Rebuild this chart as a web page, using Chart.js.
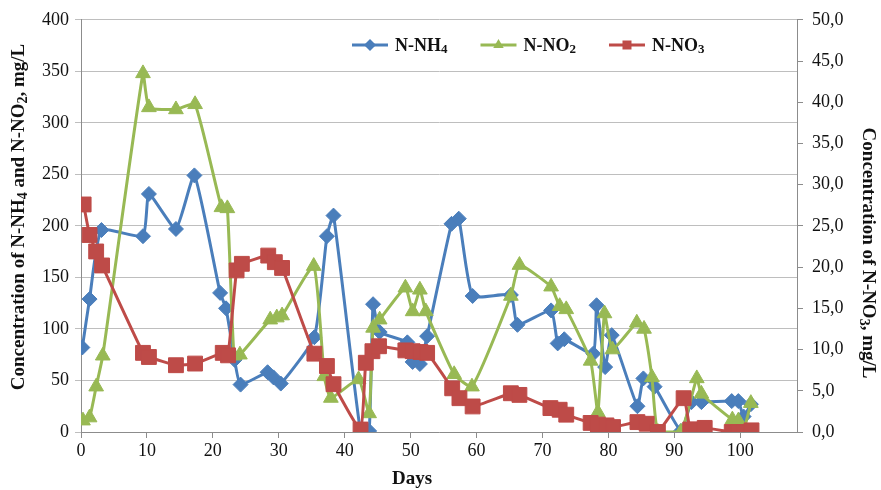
<!DOCTYPE html>
<html>
<head>
<meta charset="utf-8">
<script src="https://cdn.jsdelivr.net/npm/chart.js@4.4.1/dist/chart.umd.min.js"></script>
<style>
  html, body { margin: 0; padding: 0; background: #fff; }
  #wrap { width: 881px; height: 490px; }
</style>
</head>
<body>
<div id="wrap"><canvas id="chart" width="881" height="490"></canvas></div>
<script>
// sampling days and concentrations
const nh4Days = [0.2, 1.3, 3.1, 9.4, 10.3, 14.4, 17.2, 21.1, 22.0, 23.3, 24.2, 28.3, 29.2, 30.3, 35.4, 37.3, 38.3,
  42.4, 43.7, 44.3, 45.3, 49.5, 50.3, 51.4, 52.5, 56.2, 57.3, 59.4, 65.2, 66.2, 71.3, 72.3, 73.3, 77.7, 78.2,
  79.5, 80.5, 84.4, 85.3, 87.0, 91.0, 92.6, 94.1, 98.7, 99.7, 100.5, 101.6]
const nh4Values = [82, 129, 196, 190, 231, 197, 249, 135, 120, 70, 46, 58, 53, 47, 92, 190, 210,
  0, 1, 124, 97, 87, 68, 66, 93, 202, 207, 132, 133, 104, 118, 86, 90, 76, 123,
  63, 94, 25, 52, 44, 1, 29, 29, 30, 30, 15, 27]

const no2Days = [0.3, 1.3, 2.3, 3.3, 9.4, 10.3, 14.4, 17.3, 21.3, 22.2, 23.2, 24.1, 28.7, 29.7, 30.5, 35.3, 36.9,
  37.9, 42.1, 43.7, 44.3, 45.3, 49.2, 50.3, 51.4, 52.3, 56.6, 59.3, 65.2, 66.5, 71.3, 72.6, 73.6, 77.3, 78.4,
  79.4, 80.6, 84.3, 85.4, 86.6, 87.5, 91.0, 93.4, 94.1, 98.8, 99.7, 100.5, 101.6]
const no2Values = [11, 14, 44, 74, 348, 315, 313, 318, 218, 217, 74, 75, 109, 111, 113, 161, 54,
  33, 51, 18, 101, 109, 140, 117, 138, 117, 56, 44, 132, 162, 141, 122, 119, 69, 19,
  115, 80, 106, 100, 53, 0, 0, 52, 37, 12, 11, 2, 28]

const no3Days = [0.4, 1.3, 2.3, 3.2, 9.4, 10.3, 14.4, 17.3, 21.5, 22.3, 23.6, 24.4, 28.4, 29.4, 30.5, 35.4, 37.3,
  38.3, 42.4, 43.2, 44.2, 45.2, 49.2, 50.3, 51.5, 52.5, 56.3, 57.4, 59.4, 65.2, 66.5, 71.2, 72.6, 73.6, 77.3,
  78.4, 79.7, 80.7, 84.4, 85.8, 87.5, 91.4, 92.4, 93.4, 94.6, 98.7, 99.7, 100.7, 101.7]
const no3Values = [27.6, 23.9, 21.9, 20.2, 9.6, 9.1, 8.1, 8.3, 9.6, 9.3, 19.6, 20.4, 21.4, 20.6, 19.9, 9.5, 8.0,
  5.8, 0.3, 8.4, 9.8, 10.4, 9.9, 9.8, 9.7, 9.6, 5.3, 4.1, 3.1, 4.7, 4.5, 2.9, 2.7, 2.1, 1.1,
  0.9, 0.8, 0.6, 1.2, 1.0, 0.0, 4.1, 0.3, 0.3, 0.5, 0.0, 0.0, 0.0, 0.2]

const seriesNames = ['N-NH_4', 'N-NO_2', 'N-NO_3']
const dayTicks = [0, 10, 20, 30, 40, 50, 60, 70, 80, 90, 100]
const leftTicks = [0, 50, 100, 150, 200, 250, 300, 350, 400]
const rightTicks = [0, 5, 10, 15, 20, 25, 30, 35, 40, 45, 50]

const FONT = '"Liberation Serif", "Times New Roman", serif'
const BLUE = '#4A7EBB'
const GREEN = '#98B954'
const RED = '#BE4B48'
const GRID = '#BEBEBE'
const AXIS = '#8C8C8C'

const toPoints = (days, values) => days.map((d, i) => ({ x: d, y: values[i] }))

// split 'N-NH_4' into normal / subscript pieces
function parts (text) {
  return text.split(/_(\d)/).map((t, i) => ({ t, sub: i % 2 === 1 })).filter(p => p.t)
}

function drawRich (ctx, text, cx, cy, rot, size, align) {
  const ps = parts(text)
  const subSize = Math.round(size * 0.72)
  let w = 0
  ps.forEach(p => {
    ctx.font = `bold ${p.sub ? subSize : size}px ${FONT}`
    p.w = ctx.measureText(p.t).width
    w += p.w
  })
  ctx.save()
  ctx.translate(cx, cy)
  ctx.rotate(rot)
  ctx.fillStyle = '#111'
  ctx.textBaseline = 'alphabetic'
  let x = align === 'left' ? 0 : -w / 2
  ps.forEach(p => {
    ctx.font = `bold ${p.sub ? subSize : size}px ${FONT}`
    ctx.fillText(p.t, x, size * 0.33 + (p.sub ? size * 0.12 : 0))
    x += p.w
  })
  ctx.restore()
  return w
}

function marker (ctx, style, x, y, r, color) {
  ctx.fillStyle = color
  ctx.beginPath()
  if (style === 'rectRot') {
    ctx.moveTo(x, y - r); ctx.lineTo(x + r, y); ctx.lineTo(x, y + r); ctx.lineTo(x - r, y)
  } else if (style === 'triangle') {
    ctx.moveTo(x, y - r); ctx.lineTo(x + r * 0.87, y + r * 0.5); ctx.lineTo(x - r * 0.87, y + r * 0.5)
  } else {
    ctx.rect(x - r * 0.75, y - r * 0.75, r * 1.5, r * 1.5)
  }
  ctx.closePath()
  ctx.fill()
}

const textPlugin = {
  id: 'texts',
  afterDraw (chart) {
    const ctx = chart.ctx
    drawRich(ctx, 'Concentration of N-NH_4 and N-NO_2, mg/L', 18, 217, -Math.PI / 2, 19)
    drawRich(ctx, 'Concentration of N-NO_3, mg/L', 869, 253, Math.PI / 2, 19)
    drawRich(ctx, 'Days', 412, 478, 0, 19)

    // legend: line with marker, then label
    let x = 352
    const y = 45
    chart.data.datasets.forEach(ds => {
      ctx.save()
      ctx.strokeStyle = ds.borderColor
      ctx.lineWidth = 3
      ctx.beginPath()
      ctx.moveTo(x, y)
      ctx.lineTo(x + 36, y)
      ctx.stroke()
      marker(ctx, ds.pointStyle, x + 18, y, 6, ds.borderColor)
      ctx.restore()
      const w = drawRich(ctx, ds.label, x + 43, y, 0, 18, 'left')
      x += 43 + w + 33
    })
  }
}

new Chart(document.getElementById('chart'), {
  type: 'scatter',
  data: {
    datasets: [
      {
        label: seriesNames[0],
        data: toPoints(nh4Days, nh4Values),
        yAxisID: 'y',
        borderColor: BLUE,
        backgroundColor: BLUE,
        pointStyle: 'rectRot',
        pointRadius: 7.5,
        order: 3
      },
      {
        label: seriesNames[1],
        data: toPoints(no2Days, no2Values),
        yAxisID: 'y',
        borderColor: GREEN,
        backgroundColor: GREEN,
        pointStyle: 'triangle',
        pointRadius: 8.5,
        order: 2
      },
      {
        label: seriesNames[2],
        data: toPoints(no3Days, no3Values),
        yAxisID: 'y2',
        borderColor: RED,
        backgroundColor: RED,
        pointStyle: 'rect',
        pointRadius: 10.5,
        order: 1
      }
    ].map(ds => ({ ...ds, showLine: true, borderWidth: 3, tension: 0.15, pointBorderWidth: 1, pointHoverRadius: ds.pointRadius }))
  },
  options: {
    responsive: false,
    animation: false,
    events: [],
    layout: { padding: { top: 16, left: 0, right: 0, bottom: 0 } },
    plugins: {
      legend: { display: false },
      tooltip: { enabled: false }
    },
    scales: {
      x: {
        type: 'linear',
        min: 0,
        max: 108.6,
        afterBuildTicks: s => { s.ticks = dayTicks.map(v => ({ value: v })) },
        afterFit: s => { s.height = 58 },
        grid: { drawOnChartArea: false, tickLength: 6, color: AXIS },
        border: { color: AXIS, width: 1 },
        ticks: { font: { family: FONT, size: 18 }, color: '#111', padding: 2, maxRotation: 0 }
      },
      y: {
        position: 'left',
        min: 0,
        max: 400,
        afterBuildTicks: s => { s.ticks = leftTicks.map(v => ({ value: v })) },
        afterFit: s => { s.width = 81 },
        grid: { color: GRID, tickLength: 6, lineWidth: 1 },
        border: { color: AXIS, width: 1 },
        ticks: { font: { family: FONT, size: 18 }, color: '#111', padding: 6 }
      },
      y2: {
        position: 'right',
        min: 0,
        max: 50,
        afterBuildTicks: s => { s.ticks = rightTicks.map(v => ({ value: v })) },
        afterFit: s => { s.width = 84 },
        grid: { drawOnChartArea: false, tickLength: 6, color: AXIS },
        border: { color: AXIS, width: 1 },
        ticks: {
          font: { family: FONT, size: 18 },
          color: '#111',
          padding: 9,
          callback: v => v.toFixed(1).replace('.', ',')
        }
      }
    }
  },
  plugins: [textPlugin]
})
</script>
</body>
</html>
